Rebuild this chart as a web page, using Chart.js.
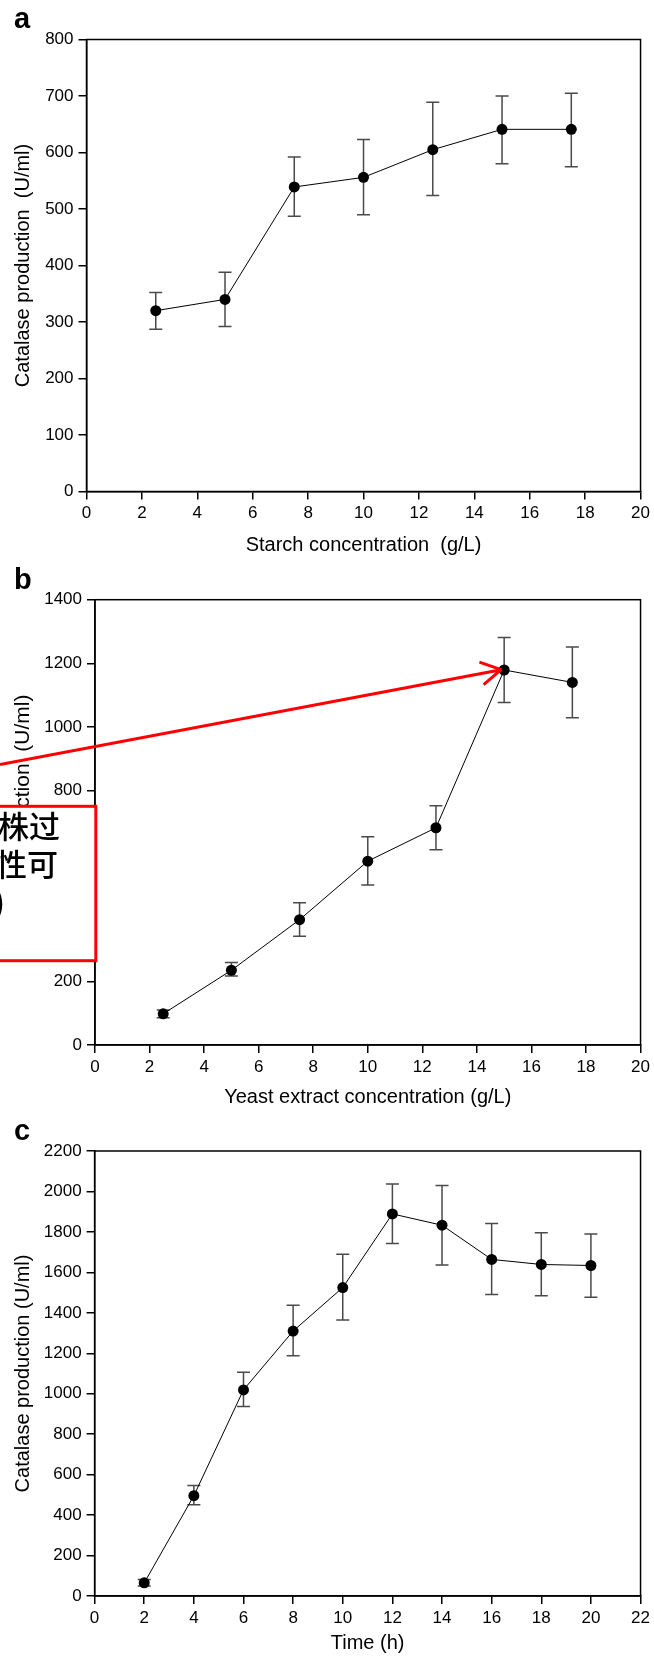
<!DOCTYPE html>
<html>
<head>
<meta charset="utf-8">
<script src="https://cdn.jsdelivr.net/npm/chart.js@4.4.1/dist/chart.umd.min.js"></script>
<style>
  body { margin: 0; background: #fff; }
  .wrap { position: relative; width: 654px; height: 1658px; overflow: hidden; }
  canvas { position: absolute; left: 0; }
</style>
</head>
<body>
<div class="wrap">
  <canvas id="chart-a" width="654" height="556" style="top:0px"></canvas>
  <canvas id="chart-b" width="654" height="554" style="top:556px"></canvas>
  <canvas id="chart-c" width="654" height="548" style="top:1110px"></canvas>
</div>
<script>
// ====== DATA ======
// a: starch
const starchX     = [2.5, 5, 7.5, 10, 12.5, 15, 17.5];
const starchY     = [320, 340, 539, 556, 605, 641, 641];
const starchHigh  = [352, 388, 592, 623, 689, 700, 705];
const starchLow   = [287, 292, 487, 490, 524, 580, 575];

// b: yeast extract
const yeastX      = [2.5, 5, 7.5, 10, 12.5, 15, 17.5];
const yeastY      = [98, 235, 394, 578, 683, 1179, 1140];
const yeastHigh   = [110, 259, 447, 655, 752, 1281, 1251];
const yeastLow    = [86, 217, 342, 503, 614, 1077, 1029];

// c: time course
const timeX       = [2, 4, 6, 8, 10, 12, 14, 16, 18, 20];
const timeY       = [65, 496, 1019, 1310, 1525, 1889, 1833, 1664, 1639, 1634];
const timeHigh    = [81, 546, 1106, 1438, 1690, 2037, 2030, 1842, 1796, 1790];
const timeLow     = [49, 451, 937, 1188, 1364, 1743, 1637, 1491, 1484, 1477];

// axis ranges: [min, max, step]
const starchXTicks = [0, 20, 2];
const starchYTicks = [0, 800, 100];
const yeastXTicks  = [0, 20, 2];
const yeastYTicks  = [0, 1400, 200];
const timeXTicks   = [0, 22, 2];
const timeYTicks   = [0, 2200, 200];

// annotation text (red box, panel b)
const noteLines = ["株过", "性可", ")"];

Chart.defaults.font.family = "'Liberation Sans', Arial, sans-serif";
Chart.defaults.font.size = 17;
Chart.defaults.color = "#000";

// error bars behind the points
const errorBars = {
  id: "errorBars",
  beforeDatasetsDraw(chart) {
    const { ctx, scales: { x, y } } = chart;
    const eb = chart.options.plugins.errorBars;
    ctx.save();
    ctx.strokeStyle = "#4a4a4a";
    ctx.lineWidth = 1.5;
    eb.xs.forEach((xv, i) => {
      const px = x.getPixelForValue(xv);
      const top = y.getPixelForValue(eb.high[i]);
      const bot = y.getPixelForValue(eb.low[i]);
      ctx.beginPath();
      ctx.moveTo(px, top); ctx.lineTo(px, bot);
      ctx.moveTo(px - 6.5, top); ctx.lineTo(px + 6.5, top);
      ctx.moveTo(px - 6.5, bot); ctx.lineTo(px + 6.5, bot);
      ctx.stroke();
    });
    ctx.restore();
  }
};

// frame around plot + panel letter
const frame = {
  id: "frame",
  afterDraw(chart) {
    const { ctx, chartArea: a } = chart;
    ctx.save();
    ctx.strokeStyle = "#000";
    ctx.lineWidth = 1.5;
    ctx.strokeRect(a.left, a.top, a.right - a.left, a.bottom - a.top);
    const p = chart.options.plugins.frame;
    ctx.fillStyle = "#000";
    ctx.font = "bold 29px 'Liberation Sans', Arial, sans-serif";
    ctx.textBaseline = "alphabetic";
    ctx.fillText(p.letter, 14, p.letterY);
    ctx.restore();
  }
};

// red arrow + box that sits on top of panel b
const overlay = {
  id: "overlay",
  afterDraw(chart) {
    if (!chart.options.plugins.overlay) return;
    const { ctx, scales: { x, y } } = chart;
    ctx.save();
    ctx.strokeStyle = "#ff0000";
    ctx.lineWidth = 3;
    // box
    ctx.fillStyle = "#fff";
    ctx.fillRect(-10, 250, 106, 155);
    ctx.strokeRect(-10, 250.3, 105.8, 154.4);
    ctx.fillStyle = "#000";
    ctx.font = "500 31px 'Noto Sans CJK SC', sans-serif";
    ctx.textAlign = "right";
    ctx.textBaseline = "middle";
    ctx.fillText(noteLines[0], 60, 270);
    ctx.fillText(noteLines[1], 58, 308);
    ctx.fillText(noteLines[2], 5, 346);
    // arrow
    const tx = x.getPixelForValue(15) - 3;
    const ty = y.getPixelForValue(1180);
    const sx = 0, sy = 208.5;
    const ang = Math.atan2(sy - ty, sx - tx);
    ctx.beginPath();
    ctx.moveTo(sx, sy); ctx.lineTo(tx, ty);
    [-0.52, 0.52].forEach(d => {
      ctx.moveTo(tx, ty);
      ctx.lineTo(tx + 23 * Math.cos(ang + d), ty + 23 * Math.sin(ang + d));
    });
    ctx.stroke();
    ctx.restore();
  }
};

function makeChart(id, cfg) {
  const pts = cfg.xs.map((v, i) => ({ x: v, y: cfg.ys[i] }));
  return new Chart(document.getElementById(id), {
    type: "line",
    data: {
      datasets: [{
        data: pts,
        borderColor: "#000",
        borderWidth: 1,
        pointRadius: 5.5,
        pointBackgroundColor: "#000",
        pointBorderWidth: 0,
        tension: 0
      }]
    },
    options: {
      responsive: false,
      animation: false,
      layout: { padding: { top: cfg.top, right: cfg.right, left: 0, bottom: 0 } },
      plugins: {
        legend: { display: false },
        tooltip: { enabled: false },
        errorBars: { xs: cfg.xs, high: cfg.high, low: cfg.low },
        frame: { letter: cfg.letter, letterY: cfg.letterY },
        overlay: cfg.overlay || false
      },
      scales: {
        x: {
          type: "linear",
          min: cfg.xTicks[0], max: cfg.xTicks[1],
          afterFit: s => { s.height = cfg.xHeight; },
          ticks: { stepSize: cfg.xTicks[2], padding: 4, maxRotation: 0, autoSkip: false,
                   callback: v => String(v) },
          grid: { drawOnChartArea: false, tickLength: 8, color: "#000", lineWidth: 1.5 },
          border: { color: "#000", width: 1.5 },
          title: {
            display: true, text: cfg.xTitle,
            font: { size: 20 }, padding: { top: 0, bottom: cfg.xTitlePad }
          }
        },
        y: {
          min: cfg.yTicks[0], max: cfg.yTicks[1],
          afterFit: s => { s.width = cfg.yWidth; },
          ticks: { stepSize: cfg.yTicks[2], padding: 5, callback: v => String(v) },
          grid: { drawOnChartArea: false, tickLength: 8, color: "#000", lineWidth: 1.5 },
          border: { color: "#000", width: 1.5 },
          title: {
            display: true, text: cfg.yTitle,
            font: { size: cfg.yTitleSize || 20 }, padding: { top: 11, bottom: 0 }
          }
        }
      }
    },
    plugins: [errorBars, frame, overlay]
  });
}

makeChart("chart-a", {
  xs: starchX, ys: starchY, high: starchHigh, low: starchLow,
  xTicks: starchXTicks, yTicks: starchYTicks,
  xTitle: "Starch concentration  (g/L)",
  yTitle: "Catalase production  (U/ml)",
  top: 39.5, right: 11, yWidth: 86.5, xHeight: 64.5, xTitlePad: -1,
  letter: "a", letterY: 28
});

makeChart("chart-b", {
  xs: yeastX, ys: yeastY, high: yeastHigh, low: yeastLow,
  xTicks: yeastXTicks, yTicks: yeastYTicks,
  xTitle: "Yeast extract concentration (g/L)",
  yTitle: "Catalase production  (U/ml)", yTitleSize: 21,
  top: 43.7, right: 10.5, yWidth: 95, xHeight: 65, xTitlePad: 1,
  letter: "b", letterY: 33, overlay: true
});

makeChart("chart-c", {
  xs: timeX, ys: timeY, high: timeHigh, low: timeLow,
  xTicks: timeXTicks, yTicks: timeYTicks,
  xTitle: "Time (h)",
  yTitle: "Catalase production (U/ml)",
  top: 41, right: 10.7, yWidth: 94.6, xHeight: 62, xTitlePad: 3,
  letter: "c", letterY: 30
});
</script>
</body>
</html>
